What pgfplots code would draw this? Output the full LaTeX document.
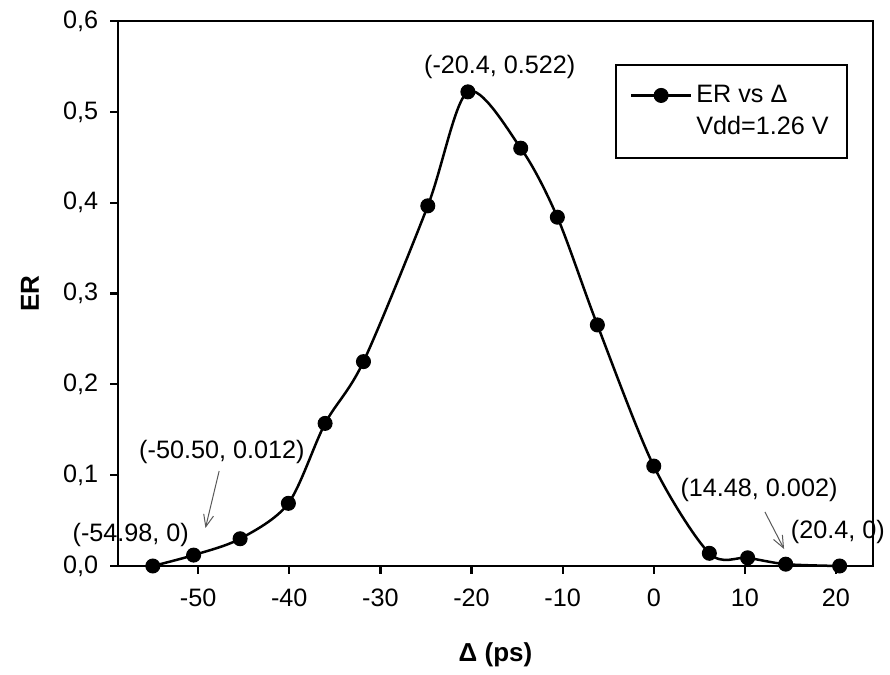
\documentclass[border=0pt]{standalone}
\usepackage{pgfplots}
\pgfplotsset{compat=1.18}
\usepackage{fontspec}
\setmainfont{Liberation Sans}
\usetikzlibrary{arrows.meta}
\begin{document}
\fontsize{12.6}{15}\selectfont
\begin{tikzpicture}
\useasboundingbox (0,0) rectangle (445pt,337.5pt);
\begin{axis}[
  at={(59pt,54.5pt)}, anchor=south west,
  scale only axis, width=377.5pt, height=272.5pt,
  xmin=-58.8, xmax=24.06, ymin=0, ymax=0.6,
  axis line style={line width=1.1pt},
  tick style={line width=1.1pt, black},
  tick align=outside, major tick length=4pt,
  xtick pos=left, ytick pos=left,
  xtick={-50,-40,-30,-20,-10,0,10,20},
  xticklabels={-50,-40,-30,-20,-10,0,10,20},
  ytick={0,0.1,0.2,0.3,0.4,0.5,0.6},
  yticklabels={{0,0},{0,1},{0,2},{0,3},{0,4},{0,5},{0,6}},
  ticklabel style={font=\fontsize{12.6}{15}\selectfont},
  xticklabel style={yshift=-3pt},
  yticklabel style={xshift=-1.5pt},
  xlabel={\textbf{Δ (ps)}},
  ylabel={\textbf{ER}},
  label style={font=\fontsize{13}{15}\selectfont},
  xlabel style={at={(axis description cs:0.5,-0.1633)}, anchor=center},
  ylabel style={at={(axis description cs:-0.1166,0.5)}, anchor=center},
  legend style={at={(axis description cs:0.658,0.9215)}, anchor=north west,
    draw=black, line width=1.1pt, font=\fontsize{12.6}{15}\selectfont,
    inner xsep=7pt, inner ysep=8pt, row sep=1pt},
  legend cell align=left,
  legend image code/.code={\draw[#1] (0pt,0pt) -- (30pt,0pt); \path[#1] plot[only marks] coordinates {(15pt,0pt)};},
  clip=false,
]
\addplot[black, line width=1.25pt, smooth, tension=0.5, mark=*, mark size=3.5pt, mark options={fill=black, line width=0.5pt}]
  coordinates {
  (-54.98,0) (-50.50,0.012) (-45.4,0.030) (-40.1,0.069) (-36.07,0.157)
  (-31.86,0.225) (-24.8,0.3965) (-20.4,0.522) (-14.6,0.460) (-10.58,0.384)
  (-6.19,0.2654) (0,0.110) (6.1,0.014) (10.3,0.009) (14.48,0.002) (20.4,0)
  };
\addlegendentry{ER vs Δ\hspace{5pt}}
\addlegendimage{empty legend}
\addlegendentry{Vdd=1.26 V\hspace{5pt}}
\node[font=\fontsize{12.6}{15}\selectfont] at (axis cs:-47.4,0.1256) {(-50.50, 0.012)};
\node[font=\fontsize{12.6}{15}\selectfont] at (axis cs:-57.4,0.034) {(-54.98, 0)};
\node[font=\fontsize{12.6}{15}\selectfont] at (axis cs:-16.9,0.5496) {(-20.4, 0.522)};
\node[font=\fontsize{12.6}{15}\selectfont] at (axis cs:11.55,0.0837) {(14.48, 0.002)};
\node[font=\fontsize{12.6}{15}\selectfont] at (axis cs:20.2,0.0374) {(20.4, 0)};
\draw[gray!70!black, line width=0.5pt, -{Straight Barb[length=6pt,width=5pt]}] (axis cs:-47.7,0.1046) -- (axis cs:-49.2,0.0419);
\draw[gray!70!black, line width=0.5pt, -{Straight Barb[length=6pt,width=5pt]}] (axis cs:12.2,0.0595) -- (axis cs:14.3,0.0187);
\end{axis}
\end{tikzpicture}
\end{document}
